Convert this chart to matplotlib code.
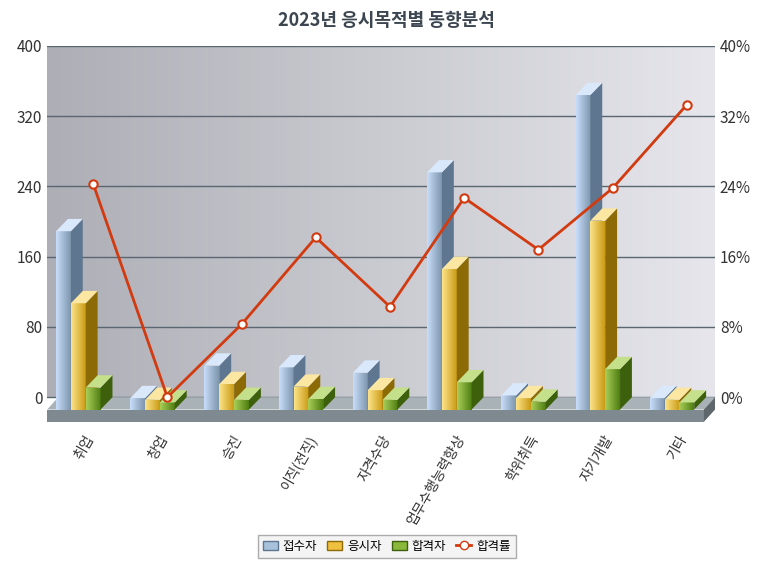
import matplotlib
matplotlib.use("Agg")
import matplotlib.pyplot as plt
import numpy as np
from matplotlib.patches import Polygon, Patch
from matplotlib.lines import Line2D
from matplotlib.colors import LinearSegmentedColormap
from matplotlib import font_manager

names = sorted({f.name for f in font_manager.fontManager.ttflist})
cjk = [n for n in names if 'CJK' in n and 'KR' in n] + [n for n in names if 'CJK' in n]
plt.rcParams['font.family'] = (cjk[:1] if cjk else []) + ['DejaVu Sans']

categories = ['취업', '창업', '승진', '이직(전직)', '자격수당', '업무수행능력향상', '학위취득', '자기개발', '기타']
applicants = [195, 5, 42, 40, 34, 262, 8, 350, 5]
examinees = [113, 3, 21, 18, 14, 152, 5, 207, 3]
passers = [17, 0, 3, 4, 3, 23, 1, 38, 0]
pass_rate = [24.3, 0, 8.3, 18.2, 10.3, 22.7, 16.8, 23.8, 33.3]
series_names = ['접수자', '응시자', '합격자', '합격률']

fig = plt.figure(figsize=(7.73, 5.81), dpi=100)
ax = fig.add_axes([0.061, 0.274, 0.864, 0.647])
ax.set_xlim(-0.5, 8.5)
ax.set_ylim(-28, 400)

grad = np.linspace(0, 1, 256)[None, :]
bg = LinearSegmentedColormap.from_list('bg', ['#aeaeb6', '#e6e6ec'])
ax.imshow(grad, extent=[-0.5, 8.5, 0, 400], aspect='auto', cmap=bg, zorder=0)

for t in range(0, 401, 80):
    ax.axhline(t, color='#5a6670', lw=1, zorder=1)

ax.add_patch(Polygon([[-0.5, -14], [8.35, -14], [8.5, 0], [-0.35, 0]], closed=True, fc='#a9b2b7', ec='none', zorder=2))
ax.add_patch(Polygon([[-0.5, -14], [8.35, -14], [8.35, -28], [-0.5, -28]], closed=True, fc='#7f8a90', ec='none', zorder=2))
ax.add_patch(Polygon([[8.35, -14], [8.5, 0], [8.5, -14], [8.35, -28]], closed=True, fc='#5d676c', ec='none', zorder=2))

bw = 0.2
dx, dy = 0.16, 14
styles = [
    (applicants, -0.2, ('#c9defa', '#7d95ad'), '#5f7690', '#d9e9fb'),
    (examinees, 0.0, ('#fde48a', '#c99a14'), '#8c6a06', '#fbe7a2'),
    (passers, 0.2, ('#a9cf59', '#4f7d12'), '#3d600c', '#c5e08a'),
]
for vals, off, (c1, c2), side, top in styles:
    cmap = LinearSegmentedColormap.from_list('b', [c1, c2])
    for i, v in enumerate(vals):
        x0 = i + off - bw / 2 - 0.08
        y0 = -14
        h = v + 8
        ax.imshow(grad, extent=[x0, x0 + bw, y0, y0 + h], aspect='auto', cmap=cmap, zorder=3)
        ax.add_patch(Polygon([[x0 + bw, y0], [x0 + bw + dx, y0 + dy], [x0 + bw + dx, y0 + h + dy], [x0 + bw, y0 + h]],
                             fc=side, ec='none', zorder=3))
        ax.add_patch(Polygon([[x0, y0 + h], [x0 + dx, y0 + h + dy], [x0 + bw + dx, y0 + h + dy], [x0 + bw, y0 + h]],
                             fc=top, ec='none', zorder=3))

ax.set_xticks(range(len(categories)))
ax.set_xticklabels(categories, rotation=60, ha='right', rotation_mode='anchor', fontsize=10, color='#333333')
ax.set_yticks(range(0, 401, 80))
ax.tick_params(axis='y', labelsize=11, colors='#333333', length=0)
ax.tick_params(axis='x', length=0, pad=8)
for s in ax.spines.values():
    s.set_visible(False)

ax2 = ax.twinx()
ax2.set_ylim(-2.8, 40)
ax2.set_yticks(range(0, 41, 8))
ax2.set_yticklabels([f'{t}%' for t in range(0, 41, 8)])
ax2.tick_params(axis='y', labelsize=11, colors='#333333', length=0)
for s in ax2.spines.values():
    s.set_visible(False)
xs = np.arange(len(categories)) + 0.12
ax2.plot(xs, pass_rate, color='#d23a10', lw=2, marker='o', ms=6, mfc='white', mec='#d23a10', mew=1.5, zorder=5)

fig.text(0.5, 0.965, '2023년 응시목적별 동향분석', ha='center', va='center', fontsize=13, fontweight='bold', color='#3c4650')

handles = [Patch(fc='#a8c2dc', ec='#5f7690'), Patch(fc='#f0c040', ec='#8c6a06'), Patch(fc='#8ab83a', ec='#3d600c'),
           Line2D([], [], color='#d23a10', lw=2, marker='o', mfc='white', mec='#d23a10')]
leg = fig.legend(handles, series_names, loc='center', bbox_to_anchor=(0.5, 0.06), ncol=4, fontsize=9,
                 frameon=True, fancybox=False, edgecolor='#999999', handlelength=1.2, columnspacing=0.8, handletextpad=0.4)
leg.get_frame().set_facecolor('#f2f2f2')

fig.savefig('out.png', dpi=100)
